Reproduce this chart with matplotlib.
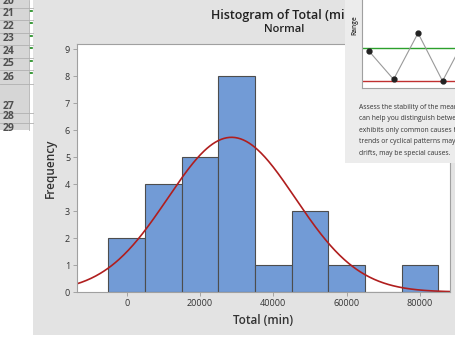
import numpy as np
import matplotlib.pyplot as plt
from matplotlib.patches import Rectangle

plt.rcParams['font.family'] = ['Open Sans', 'DejaVu Sans']

# histogram data (bin midpoints, counts)
bin_mids = [0, 10000, 20000, 30000, 40000, 50000, 60000, 70000, 80000]
counts = [2, 4, 5, 8, 1, 3, 1, 0, 1]
bin_width = 10000
fit_mean = 28600
fit_sd = 17400
n_obs = 25

x_ticks = [0, 20000, 40000, 60000, 80000]
y_ticks = list(range(0, 10))

# range chart in the overlapping window
range_idx = [1, 2, 3, 4, 5]
range_vals = [0.9, 0.05, 1.45, 0.0, 1.4]
range_center = 1.0
range_lcl = 0.0

panel_lines = ["Assess the stability of the mean and",
               "can help you distinguish between",
               "exhibits only common causes have",
               "trends or cyclical patterns may also",
               "drifts, may be special causes."]

row_nums = ["20", "21", "22", "23", "24", "25", "26", "27", "28", "29"]

fig = plt.figure(figsize=(4.56, 3.49), dpi=100)
fig.patch.set_facecolor('white')

# background in pixel coords
bg = fig.add_axes([0, 0, 1, 1], zorder=-10)
bg.set_xlim(0, 456)
bg.set_ylim(349, 0)
bg.axis('off')
bg.add_patch(Rectangle((33, 0), 423, 335, color='#e3e3e3', lw=0))

# spreadsheet strip on the left
row_edges = [-5, 8, 20, 33, 45, 58, 70, 84, 113, 123, 135]
bg.add_patch(Rectangle((0, 0), 29, 130, color='#d6d6d6', lw=0))
bg.add_patch(Rectangle((29, 0), 4, 130, color='white', lw=0))
clip = Rectangle((0, 0), 33, 130, transform=bg.transData)
for i, lab in enumerate(row_nums):
    top, bot = row_edges[i], row_edges[i + 1]
    if bot < 130:
        bg.plot([0, 33], [bot, bot], color='#b0b0b0', lw=0.6)
    t = bg.text(3, bot - 1, lab, fontsize=7.5, color='#505050', weight='bold',
                va='bottom', ha='left')
    t.set_clip_path(clip)
    if i < 7:
        bg.plot([30, 32], [top + 3, top + 3], color='#1a8a1a', lw=1.2)
bg.plot([29, 29], [0, 130], color='#b0b0b0', lw=0.6)

# histogram
ax = fig.add_axes([77 / 456, 57 / 349, 373 / 456, 248 / 349])
ax.bar(bin_mids, counts, width=bin_width, color='#729bd6',
       edgecolor='#4d4d4d', linewidth=0.8)
x0, x1 = -13560, 88200
xs = np.linspace(x0, x1, 400)
ys = n_obs * bin_width / (fit_sd * np.sqrt(2 * np.pi)) * np.exp(-0.5 * ((xs - fit_mean) / fit_sd) ** 2)
ax.plot(xs, ys, color='#b01e1e', lw=1.2)
ax.set_xlim(x0, x1)
ax.set_ylim(0, 9.19)
ax.set_xticks(x_ticks)
ax.set_yticks(y_ticks)
ax.tick_params(labelsize=6.5, colors='#333333', length=3, width=0.6,
               color='#999999', pad=2)
for s in ax.spines.values():
    s.set_color('#a0a0a0')
    s.set_linewidth(0.8)
ax.set_xlabel('Total (min)', fontsize=8.5, color='#333333', labelpad=4, weight='semibold')
ax.set_ylabel('Frequency', fontsize=8.5, color='#333333', labelpad=6, weight='semibold')

fig.text(284 / 456, 1 - 16 / 349, 'Histogram of Total (min)', ha='center', va='center',
         fontsize=9, color='#222222', weight='semibold', zorder=3)
fig.text(284 / 456, 1 - 30 / 349, 'Normal', ha='center', va='center',
         fontsize=8, color='#222222', weight='semibold', zorder=3)

# overlapping window
pan = fig.add_axes([345 / 456, 1 - 163 / 349, 111 / 456, 163 / 349], zorder=5)
pan.set_facecolor('#ececec')
pan.set_xticks([])
pan.set_yticks([])
for s in pan.spines.values():
    s.set_visible(False)

rc = fig.add_axes([362 / 456, 1 - 88 / 349, 94 / 456, 88 / 349], zorder=6)
rc.set_facecolor('white')
rc.plot(range_idx, range_vals, color='#9a9a9a', lw=0.8, marker='o',
        markersize=3.5, markerfacecolor='#222222', markeredgecolor='#222222')
rc.axhline(range_center, color='#2ca02c', lw=1.0, zorder=1)
rc.axhline(range_lcl, color='#c03030', lw=1.0, zorder=1)
rc.set_xlim(0.71, 4.55)
rc.set_ylim(-0.21, 2.45)
rc.set_xticks([])
rc.set_yticks([])
for k in ['top', 'right']:
    rc.spines[k].set_visible(False)
for k in ['left', 'bottom']:
    rc.spines[k].set_color('#a0a0a0')
    rc.spines[k].set_linewidth(0.8)
fig.text(355 / 456, 1 - 25 / 349, 'Range', rotation=90, ha='center', va='center',
         fontsize=4.8, color='#333333', weight='semibold', zorder=7)

for i, line in enumerate(panel_lines):
    fig.text(359 / 456, 1 - (107 + i * 11.6) / 349, line, ha='left', va='center',
             fontsize=4.9, color='#333333', zorder=7)

fig.savefig('out.png', dpi=100)
